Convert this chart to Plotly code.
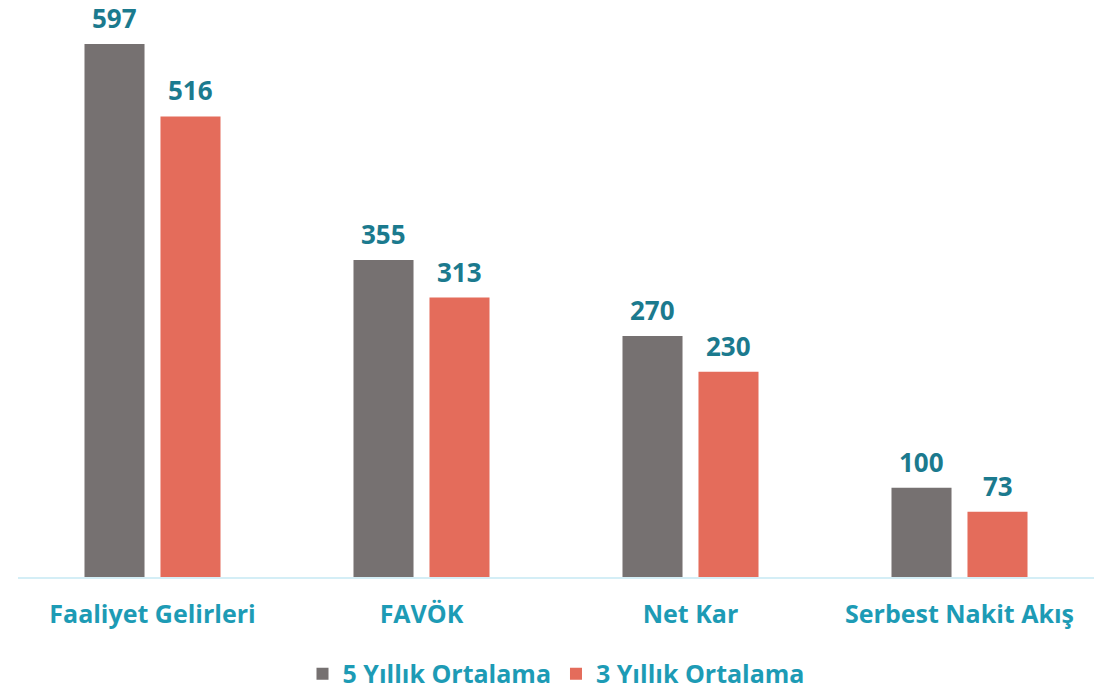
import plotly.graph_objects as go

categories = ["Faaliyet Gelirleri", "FAVÖK", "Net Kar", "Serbest Nakit Akış"]
series_names = ["5 Yıllık Ortalama", "3 Yıllık Ortalama"]
avg5 = [597, 355, 270, 100]
avg3 = [516, 313, 230, 73]

colors = ["#767171", "#E46C5B"]
label_color = "#1B7A8E"
cat_color = "#1D9BB5"
font_family = "Open Sans, Lato, sans-serif"

fig = go.Figure()
for name, vals, col in zip(series_names, [avg5, avg3], colors):
    fig.add_trace(go.Bar(
        x=categories, y=vals, name=name, marker_color=col,
        marker_line_width=0, cliponaxis=False,
    ))

# value labels above bars
for vals, shift in zip([avg5, avg3], [-38, 38]):
    for cat, v in zip(categories, vals):
        fig.add_annotation(
            x=cat, y=v, text=str(v), showarrow=False,
            xanchor="center", yanchor="bottom", xshift=shift, yshift=7,
            borderpad=0,
            font=dict(size=26, color=label_color, family=font_family, weight="bold"),
        )

fig.update_layout(
    width=1118, height=693,
    paper_bgcolor="white", plot_bgcolor="white",
    margin=dict(l=18, r=24, t=20, b=116, autoexpand=False),
    barmode="group", bargap=0.435, bargroupgap=0.21,
    font=dict(family=font_family, color=cat_color),
    showlegend=True,
    legend=dict(orientation="h", x=0.5, xanchor="center", y=-0.174, yanchor="middle",
                font=dict(size=25, color=cat_color, family=font_family, weight="bold"),
                itemsizing="constant", traceorder="normal"),
)
fig.update_xaxes(showline=True, linecolor="#D4EEF6", linewidth=2, ticks="",
                 tickfont=dict(size=25, color=cat_color, family=font_family, weight="bold"),
                 ticklabelstandoff=14, showgrid=False, automargin=False)
fig.update_yaxes(range=[0, 624], visible=False, showgrid=False, zeroline=False, automargin=False)

fig.write_html("out.html", config={"displayModeBar": False},
               post_script="document.body.style.margin='0';")
